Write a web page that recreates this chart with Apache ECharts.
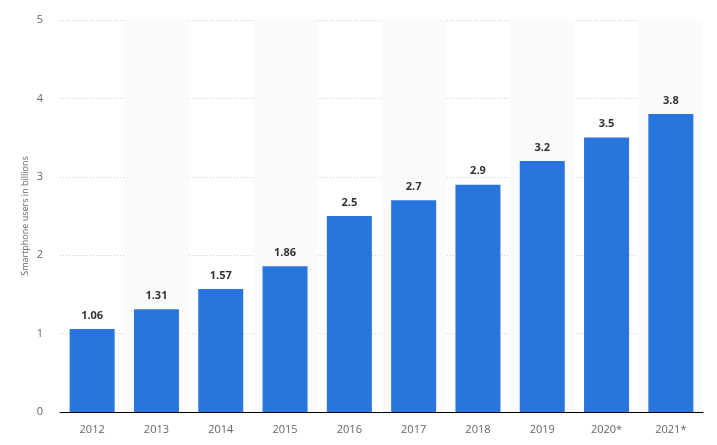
<!DOCTYPE html>
<html><head><meta charset="utf-8">
<script src="https://cdn.jsdelivr.net/npm/echarts@6/dist/echarts.min.js"></script>
<style>html,body{margin:0;padding:0;background:#fff}#c{width:717px;height:445px}</style>
</head><body><div id="c"></div>
<script>
const categories = ['2012','2013','2014','2015','2016','2017','2018','2019','2020*','2021*'];
const values = [1.06, 1.31, 1.57, 1.86, 2.5, 2.7, 2.9, 3.2, 3.5, 3.8];
const yTicks = [0, 1, 2, 3, 4, 5];
const chart = echarts.init(document.getElementById('c'));
chart.setOption({
  animation: false,
  grid: {left: 60, right: 14, top: 20, bottom: 33},
  xAxis: {
    type: 'category', data: categories,
    axisLine: {lineStyle: {color: '#000', width: 1}},
    axisTick: {show: false},
    axisLabel: {color: '#666', fontSize: 11, margin: 12, fontFamily: 'Open Sans'},
    splitArea: {show: true, areaStyle: {color: ['rgba(255,255,255,0)', '#fafafa']}}
  },
  yAxis: {
    type: 'value', min: yTicks[0], max: yTicks[yTicks.length-1], interval: 1,
    name: 'Smartphone users in billions', nameLocation: 'middle', nameGap: 30,
    nameMoveOverlap: false,
    nameTextStyle: {color: '#666', fontSize: 9, fontFamily: 'Open Sans'},
    axisLine: {show: false}, axisTick: {show: false},
    axisLabel: {color: '#666', fontSize: 11, margin: 17, fontFamily: 'Open Sans'},
    splitLine: {lineStyle: {color: '#ccc', type: [1, 2], width: 1}}
  },
  series: [{
    type: 'bar', data: values, barWidth: '70%',
    itemStyle: {color: '#2876dd'},
    label: {show: true, position: 'top', distance: 8, color: '#333', fontSize: 11, fontWeight: 'bold', fontFamily: 'Open Sans'}
  }]
});
</script></body></html>
